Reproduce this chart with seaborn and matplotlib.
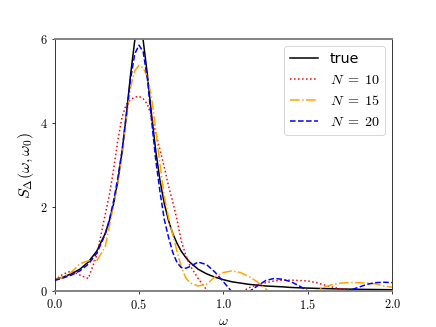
import matplotlib
matplotlib.use("Agg")
import matplotlib.pyplot as plt
import matplotlib.ticker as mticker
import seaborn as sns

# frequency grid (finer around the peak)
omega = [0.0, 0.05, 0.1, 0.15, 0.2, 0.25, 0.3,
         0.325, 0.35, 0.375, 0.4, 0.425, 0.45, 0.475, 0.5, 0.525, 0.55,
         0.575, 0.6, 0.625, 0.65, 0.675, 0.7, 0.725, 0.75, 0.775, 0.8,
         0.85, 0.9, 0.95, 1.0, 1.05, 1.1, 1.15, 1.2, 1.25, 1.3, 1.35, 1.4,
         1.45, 1.5, 1.55, 1.6, 1.65, 1.7, 1.75, 1.8, 1.85, 1.9, 1.95, 2.0]

s_true = [0.27, 0.33, 0.41, 0.52, 0.69, 0.95, 1.37,
          1.68, 2.08, 2.62, 3.32, 4.18, 5.15, 5.97, 6.4, 5.97, 5.15,
          4.18, 3.32, 2.62, 2.08, 1.68, 1.37, 1.14, 0.95, 0.81, 0.69,
          0.52, 0.41, 0.33, 0.27, 0.22, 0.19, 0.16, 0.14, 0.12, 0.11, 0.10, 0.085,
          0.077, 0.07, 0.063, 0.058, 0.053, 0.048, 0.045, 0.041, 0.038, 0.036, 0.033, 0.031]

s_n10 = [0.26, 0.40, 0.48, 0.38, 0.30, 0.85, 1.82,
         2.3, 2.9, 3.6, 4.15, 4.45, 4.56, 4.62, 4.64, 4.58, 4.45,
         4.15, 3.75, 3.35, 2.95, 2.5, 2.12, 1.7, 1.2, 0.88, 0.62,
         0.3, 0.03, -0.2, -0.3, -0.25, -0.05, 0.08, 0.15, 0.2, 0.24, 0.26, 0.26,
         0.25, 0.24, 0.2, 0.14, 0.09, 0.05, 0.02, -0.01, -0.03, -0.04, -0.03, -0.02]

s_n15 = [0.26, 0.33, 0.45, 0.65, 0.72, 0.72, 1.05,
         1.55, 2.05, 2.6, 3.2, 4.1, 4.85, 5.25, 5.38, 5.32, 5.1,
         4.6, 3.8, 3.0, 2.25, 1.75, 1.35, 0.95, 0.58, 0.33, 0.2,
         0.12, 0.16, 0.34, 0.44, 0.48, 0.44, 0.35, 0.22, 0.05, -0.1, -0.2, -0.22,
         -0.16, -0.08, 0.01, 0.1, 0.16, 0.19, 0.2, 0.2, 0.19, 0.17, 0.12, 0.09]

s_n20 = [0.25, 0.31, 0.38, 0.48, 0.64, 0.9, 1.35,
         1.7, 2.15, 2.7, 3.35, 4.2, 5.05, 5.65, 5.86, 5.7, 5.05,
         4.05, 3.1, 2.35, 1.7, 1.28, 0.92, 0.68, 0.56, 0.54, 0.58,
         0.69, 0.63, 0.45, 0.22, -0.02, -0.15, -0.02, 0.12, 0.25, 0.3, 0.28, 0.22,
         0.12, 0.0, -0.08, -0.12, -0.1, -0.05, 0.02, 0.09, 0.16, 0.2, 0.21, 0.2]

series = [
    (s_true, "true", "black", "-"),
    (s_n10, r"$N\;=\;10$", "red", ":"),
    (s_n15, r"$N\;=\;15$", "orange", "-."),
    (s_n20, r"$N\;=\;20$", "blue", "--"),
]

plt.rcParams["mathtext.fontset"] = "cm"

fig, ax = plt.subplots(figsize=(6.4, 4.8))
for vals, lab, col, ls in series:
    sns.lineplot(x=omega, y=vals, color=col, linestyle=ls, linewidth=1.6,
                 label=lab, ax=ax, sort=False)

ax.set_xlim(0, 2)
ax.set_ylim(0, 6)
ax.set_xticks([0.0, 0.5, 1.0, 1.5, 2.0])
ax.set_yticks([0, 2, 4, 6])
ax.xaxis.set_major_formatter(mticker.FuncFormatter(lambda v, p: r"$%.1f$" % v))
ax.yaxis.set_major_formatter(mticker.FuncFormatter(lambda v, p: r"$%d$" % v))
ax.tick_params(labelsize=13)
ax.set_xlabel(r"$\omega$", fontsize=15, labelpad=2)
ax.set_ylabel(r"$S_{\Delta}(\omega,\omega_0)$", fontsize=17)

for side in ["top", "bottom"]:
    ax.spines[side].set_color("gray")
    ax.spines[side].set_linewidth(2)

ax.legend(loc="upper right", fontsize=15)

fig.savefig("out.png", dpi=68.125)
